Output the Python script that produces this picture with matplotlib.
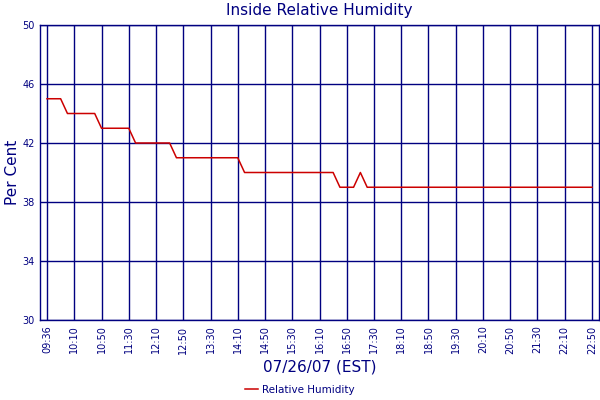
import matplotlib
matplotlib.use("Agg")
import matplotlib.pyplot as plt

NAVY = "#000080"
RED = "#cc0000"

tick_labels = [
    "09:36", "10:10", "10:50", "11:30", "12:10", "12:50", "13:30", "14:10",
    "14:50", "15:30", "16:10", "16:50", "17:30", "18:10", "18:50", "19:30",
    "20:10", "20:50", "21:30", "22:10", "22:50",
]
samples_per_tick = 4

humidity = [
    45, 45, 45,
    44, 44, 44, 44, 44,
    43, 43, 43, 43, 43,
    42, 42, 42, 42, 42, 42,
    41, 41, 41, 41, 41, 41, 41, 41, 41, 41,
    40, 40, 40, 40, 40, 40, 40, 40, 40, 40, 40, 40, 40, 40,
    39, 39, 39,
    40,
    39, 39, 39, 39, 39, 39, 39, 39, 39, 39, 39, 39, 39, 39, 39, 39, 39,
    39, 39, 39, 39, 39, 39, 39, 39, 39, 39, 39, 39, 39, 39, 39, 39, 39,
]
y_ticks = [30, 34, 38, 42, 46, 50]


def main():
    fig = plt.figure(figsize=(6, 4), dpi=100)
    ax = fig.add_axes([40 / 600, 80 / 400, 559 / 600, 295 / 400])

    x = list(range(len(humidity)))
    ax.plot(x, humidity, color=RED, lw=1.1, label="Relative Humidity")

    tick_pos = list(range(0, len(humidity), samples_per_tick))
    ax.set_xticks(tick_pos)
    ax.set_xticklabels(tick_labels, rotation=90, fontsize=7, color=NAVY)
    ax.set_xlim(-1.03, len(humidity) - 1 + 1.03)

    ax.set_ylim(30, 50)
    ax.set_yticks(y_ticks)
    ax.set_yticklabels([str(v) for v in y_ticks], fontsize=7, color=NAVY)

    ax.tick_params(length=0, pad=4)
    ax.grid(True, color=NAVY, lw=1)
    ax.set_axisbelow(True)
    for sp in ax.spines.values():
        sp.set_color(NAVY)
        sp.set_linewidth(1)

    ax.set_xlabel("07/26/07 (EST)", fontsize=11, color=NAVY, va="center")
    ax.xaxis.set_label_coords(0.5, -0.159)
    ax.set_ylabel("Per Cent", fontsize=11, color=NAVY, va="center")
    ax.yaxis.set_label_coords(-0.05, 0.5)

    fig.text(0.5325, 1 - 10 / 400, "Inside Relative Humidity",
             fontsize=11, color=NAVY, ha="center", va="center")

    leg = fig.legend(loc="center", bbox_to_anchor=(0.5, 1 - 390 / 400),
                     frameon=False, fontsize=7.5, handlelength=1.2,
                     handletextpad=0.4)
    for t in leg.get_texts():
        t.set_color(NAVY)

    fig.savefig("out.png", dpi=100)


if __name__ == "__main__":
    main()
